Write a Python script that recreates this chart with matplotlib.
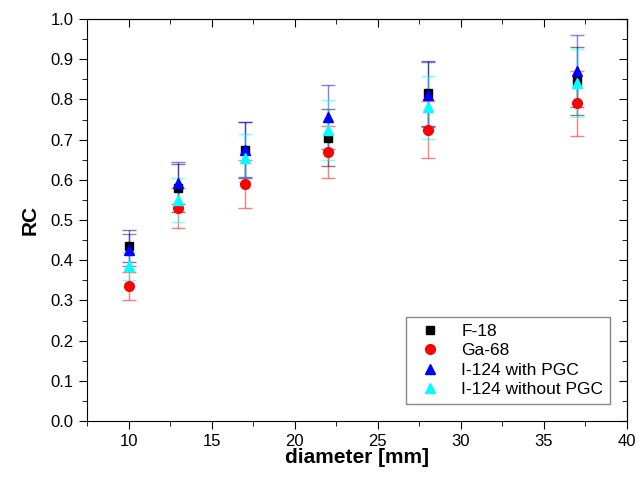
import matplotlib.pyplot as plt
from matplotlib.ticker import MultipleLocator

plt.rcParams['font.family'] = ['Liberation Sans', 'DejaVu Sans']

diameter = [10, 13, 17, 22, 28, 37]

rc_f18 = [0.435, 0.580, 0.675, 0.705, 0.815, 0.845]
err_f18 = [0.040, 0.060, 0.070, 0.070, 0.080, 0.085]

rc_ga68 = [0.335, 0.530, 0.590, 0.670, 0.725, 0.790]
err_ga68 = [0.035, 0.050, 0.060, 0.065, 0.070, 0.080]

rc_i124_pgc = [0.425, 0.592, 0.675, 0.757, 0.812, 0.870]
err_i124_pgc = [0.040, 0.052, 0.068, 0.080, 0.080, 0.090]

rc_i124_nopgc = [0.385, 0.550, 0.655, 0.724, 0.780, 0.840]
err_i124_nopgc = [0.035, 0.055, 0.060, 0.075, 0.078, 0.085]

series = [
    ('F-18', rc_f18, err_f18, 's', 'black', 6),
    ('Ga-68', rc_ga68, err_ga68, 'o', 'red', 7),
    ('I-124 with PGC', rc_i124_pgc, err_i124_pgc, '^', 'blue', 7.5),
    ('I-124 without PGC', rc_i124_nopgc, err_i124_nopgc, '^', 'cyan', 7.5),
]

fig = plt.figure(figsize=(6.41, 4.92), dpi=100)
ax = fig.add_axes([87/641, 1 - 421/492, (627 - 87)/641, (421 - 19)/492])

for name, y, e, m, c, ms in series:
    ax.errorbar(diameter, y, yerr=e, fmt='none', ecolor=c, elinewidth=1,
                capsize=5, capthick=1, alpha=0.5)
for name, y, e, m, c, ms in series:
    ax.plot(diameter, y, m, color=c, ms=ms, linestyle='none', label=name)

ax.set_xlim(7.5, 40)
ax.set_ylim(0, 1.0)
ax.xaxis.set_major_locator(MultipleLocator(5))
ax.xaxis.set_minor_locator(MultipleLocator(2.5))
ax.yaxis.set_major_locator(MultipleLocator(0.1))
ax.yaxis.set_minor_locator(MultipleLocator(0.05))
ax.tick_params(which='both', direction='out', top=False, right=False, labelsize=12)
ax.tick_params(which='major', length=6)
ax.tick_params(which='minor', length=3.5)

ax2 = ax.secondary_xaxis('top')
ax2.xaxis.set_major_locator(MultipleLocator(5))
ax2.xaxis.set_minor_locator(MultipleLocator(2.5))
ax2.tick_params(which='both', direction='in', labeltop=False)
ax2.tick_params(which='major', length=6)
ax2.tick_params(which='minor', length=3.5)
ax3 = ax.secondary_yaxis('right')
ax3.yaxis.set_major_locator(MultipleLocator(0.1))
ax3.yaxis.set_minor_locator(MultipleLocator(0.05))
ax3.tick_params(which='both', direction='in', labelright=False)
ax3.tick_params(which='major', length=6)
ax3.tick_params(which='minor', length=3.5)

ax.set_xlabel('diameter [mm]', fontsize=15, fontweight='bold', labelpad=-1)
ax.set_ylabel('RC', fontsize=15, fontweight='bold', labelpad=8)

ax.legend(loc='lower right', fontsize=12.5, frameon=True, fancybox=False,
          edgecolor='dimgray', handletextpad=0.8, borderpad=0.4,
          labelspacing=0.25, bbox_to_anchor=(0.985, 0.02))

fig.savefig('out.png', dpi=100)
